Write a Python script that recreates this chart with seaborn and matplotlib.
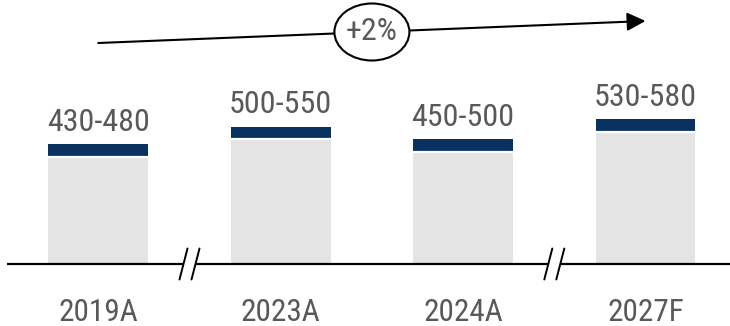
import matplotlib
matplotlib.use("Agg")
import matplotlib.pyplot as plt
from matplotlib import font_manager
from matplotlib.patches import Ellipse
from matplotlib.transforms import blended_transform_factory
import pandas as pd
import seaborn as sns

# Data
categories = ["2019A", "2023A", "2024A", "2027F"]
low_values = [430, 500, 450, 530]
high_values = [480, 550, 500, 580]
growth_label = "+2%"

NAVY = "#0A3260"
LIGHT = "#E4E4E4"
TEXT = "#595959"

sns.set_theme(style="white")

available = {f.name for f in font_manager.fontManager.ttflist}
font_choice = next(
    (f for f in ["Roboto Condensed", "Liberation Sans Narrow", "Roboto", "DejaVu Sans"] if f in available),
    "DejaVu Sans",
)
plt.rcParams["font.family"] = [font_choice, "DejaVu Sans"]

df = pd.DataFrame({"period": categories, "low": low_values, "high": high_values})

W, H, DPI = 730, 326, 100
fig = plt.figure(figsize=(W / DPI, H / DPI), dpi=DPI)
ax = fig.add_axes([0, 0, 1, 1])

# pixel geometry of the layout
px_per_unit = 0.25          # vertical scale
x0_px, step_px = 98.3, 182.4
base_px = 62                # baseline height above bottom edge
ax.set_xlim(-x0_px / step_px, (W - x0_px) / step_px)
ax.set_ylim(-base_px / px_per_unit, (H - base_px) / px_per_unit)

bar_w = 100 / step_px
sns.barplot(data=df, x="period", y="high", color=NAVY, saturation=1, width=bar_w,
            ax=ax, linewidth=0)
sns.barplot(data=df, x="period", y="low", color=LIGHT, saturation=1, width=bar_w,
            ax=ax, linewidth=0)
# thin white seam between the two segments
for i, lo in enumerate(df["low"]):
    ax.hlines(lo, i - bar_w / 2, i + bar_w / 2, color="white", lw=1.6, zorder=5)

ax.set_xlim(-x0_px / step_px, (W - x0_px) / step_px)
ax.set_ylim(-base_px / px_per_unit, (H - base_px) / px_per_unit)
ax.axis("off")

# value range labels
for i, (lo, hi) in enumerate(zip(df["low"], df["high"])):
    ax.annotate(f"{lo}-{hi}", (i, hi), xytext=(0, 9.5), textcoords="offset points",
                ha="center", va="baseline", fontsize=23, color=TEXT)

# category labels under the axis line
for i, cat in enumerate(categories):
    ax.annotate(cat, (i, 0), xytext=(0, -41), textcoords="offset points",
                ha="center", va="baseline", fontsize=22.5, color=TEXT)

# axis line with breaks between non-consecutive years
xmin = -x0_px / step_px + 7 / step_px
xmax = (W - x0_px) / step_px
breaks = [0.5, 2.5]
gap = 6 / step_px
segs = [xmin]
for b in breaks:
    segs += [b - gap, b + gap]
segs.append(xmax)
for a, b in zip(segs[::2], segs[1::2]):
    ax.plot([a, b], [0, 0], color="black", lw=1.6, solid_capstyle="butt", zorder=6)
dx = 4 / step_px
dy = 15.5 / px_per_unit
for b in breaks:
    for off in (-gap, gap):
        ax.plot([b + off - dx, b + off + dx], [-dy, dy], color="black", lw=1.4, zorder=6)

# growth arrow spanning the first to the last period
trans = blended_transform_factory(ax.transData, ax.transAxes)
y_start = (H - 43) / H
y_end = (H - 21) / H
ax.annotate("", xy=(3, y_end), xycoords=trans, xytext=(0, y_start), textcoords=trans,
            arrowprops=dict(arrowstyle="-|>", color="black", lw=1.5, mutation_scale=28,
                            shrinkA=0, shrinkB=0), zorder=7)
y_mid = (y_start + y_end) / 2
cx = ax.transAxes.inverted().transform(ax.transData.transform((1.5, 0)))[0]
ax.add_patch(Ellipse((cx, y_mid), 75 / W, 57 / H, transform=ax.transAxes,
                     facecolor="white", edgecolor="black", lw=1.5, zorder=8))
ax.text(cx, y_mid, growth_label, transform=ax.transAxes, ha="center", va="center",
        fontsize=23, color=TEXT, zorder=9)

fig.savefig("out.png", dpi=DPI)
